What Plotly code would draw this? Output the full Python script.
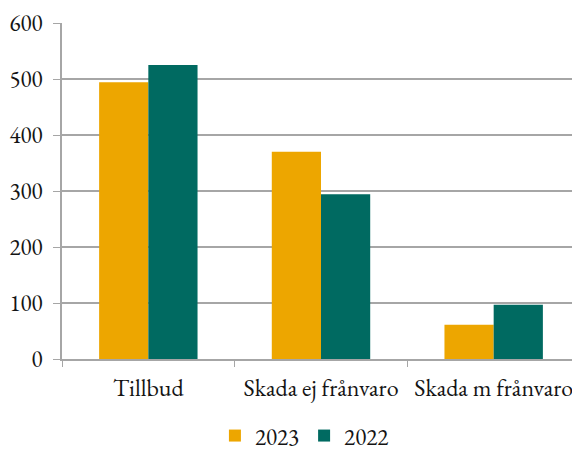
import plotly.graph_objects as go

categories = ["Tillbud", "Skada ej frånvaro", "Skada m frånvaro"]
values_2023 = [494, 370, 61]
values_2022 = [525, 294, 97]

FONT = "EB Garamond, Liberation Serif, serif"
GRID = "#a6a6a6"

fig = go.Figure()
fig.add_trace(go.Bar(x=categories, y=values_2023, name="2023",
                     marker=dict(color="#eda600", line=dict(width=0))))
fig.add_trace(go.Bar(x=categories, y=values_2022, name="2022",
                     marker=dict(color="#006a61", line=dict(width=0))))

# page body has an 8px margin, so the figure is shifted by 8px
fig.update_layout(
    width=572, height=445,
    barmode="group", bargap=0.43, bargroupgap=0,
    plot_bgcolor="white", paper_bgcolor="white",
    font=dict(family=FONT, size=23, color="#141414"),
    margin=dict(l=54, r=0, t=15, b=94, autoexpand=False),
    xaxis=dict(
        showline=True, linecolor=GRID, linewidth=1.5,
        ticks="outside", tickson="boundaries", ticklen=6, tickcolor=GRID,
        ticklabelstandoff=6, automargin=False, tickangle=0,
        tickfont=dict(size=24),
    ),
    yaxis=dict(
        range=[0, 600], dtick=100,
        showline=True, linecolor=GRID, linewidth=1.5,
        ticks="outside", ticklen=7, tickcolor=GRID,
        showgrid=True, gridcolor=GRID, gridwidth=1.5,
        zeroline=False, ticklabelstandoff=6, automargin=False,
        tickfont=dict(size=23),
    ),
    legend=dict(orientation="h", x=0.468, xanchor="center", y=-0.228, yanchor="middle",
                font=dict(size=23), itemwidth=30),
    showlegend=True,
)

fig.write_html("out.html")
